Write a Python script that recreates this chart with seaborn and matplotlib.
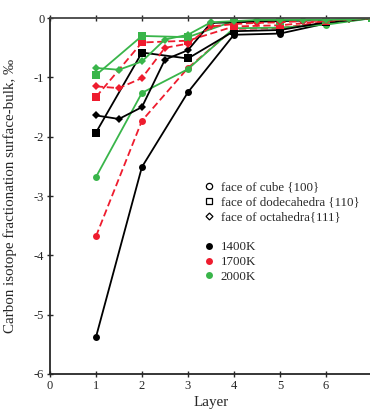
import matplotlib
matplotlib.use("Agg")
import matplotlib.pyplot as plt
from matplotlib.lines import Line2D
import pandas as pd
import seaborn as sns

# Layers for cube / dodecahedra faces, and half-layers for octahedra
LAYERS = [1, 2, 3, 4, 5, 6, 7]
LAYERS_OCT = [1, 1.5, 2, 2.5, 3, 3.5, 4, 4.5, 5, 5.5, 6, 6.5, 7]

# Carbon isotope fractionation surface-bulk (permil)
cube_1400 = [-5.38, -2.51, -1.25, -0.28, -0.26, -0.09, 0.0]
cube_1700 = [-3.68, -1.73, -0.84, -0.18, -0.17, -0.06, 0.0]
cube_2000 = [-2.68, -1.26, -0.86, -0.17, -0.16, -0.11, 0.0]

dodeca_1400 = [-1.93, -0.58, -0.68, -0.22, -0.20, -0.07, 0.0]
dodeca_1700 = [-1.33, -0.41, -0.38, -0.14, -0.12, -0.05, 0.0]
dodeca_2000 = [-0.96, -0.30, -0.32, -0.05, -0.04, -0.03, 0.0]

octa_1400 = [-1.64, -1.70, -1.50, -0.70, -0.54, -0.08, -0.07, -0.06, -0.05, -0.04, -0.03, -0.02, 0.0]
octa_1700 = [-1.15, -1.18, -1.01, -0.50, -0.43, -0.14, -0.10, -0.08, -0.07, -0.05, -0.04, -0.02, 0.0]
octa_2000 = [-0.84, -0.87, -0.73, -0.36, -0.28, -0.07, -0.05, -0.03, -0.03, -0.03, -0.03, -0.02, 0.0]

TEMPS = ["1400K", "1700K", "2000K"]
COLORS = {"1400K": "black", "1700K": "#ee1c2e", "2000K": "#39b54a"}
STYLES = {"1400K": "-", "1700K": (0, (4, 2)), "2000K": "-"}

series = [
    (LAYERS, cube_1400, "1400K", "o"), (LAYERS, cube_1700, "1700K", "o"), (LAYERS, cube_2000, "2000K", "o"),
    (LAYERS, dodeca_1400, "1400K", "s"), (LAYERS, dodeca_1700, "1700K", "s"), (LAYERS, dodeca_2000, "2000K", "s"),
    (LAYERS_OCT, octa_1400, "1400K", "D"), (LAYERS_OCT, octa_1700, "1700K", "D"), (LAYERS_OCT, octa_2000, "2000K", "D"),
]
msize = {"o": 5, "s": 5.5, "D": 3.8}

sns.set_style("ticks")
plt.rcParams["font.family"] = ["Liberation Serif", "DejaVu Serif"]
plt.rcParams["font.size"] = 9

fig = plt.figure(figsize=(3.7, 4.09), dpi=100)
ax = fig.add_axes([0.135, 0.0856, 0.87, 0.870])

for xs, ys, temp, mk in series:
    df = pd.DataFrame({"layer": xs, "frac": ys})
    sns.lineplot(data=df, x="layer", y="frac", ax=ax, color=COLORS[temp],
                 marker=mk, markersize=msize[mk], markeredgewidth=0,
                 linewidth=1.3, linestyle=STYLES[temp], legend=False)

ax.set_xlim(0, 7)
ax.set_ylim(-6, 0)
ax.set_xticks([0, 1, 2, 3, 4, 5, 6])
ax.set_yticks([0, -1, -2, -3, -4, -5, -6])
ax.set_yticklabels(["0", "-1", "-2", "-3", "-4", "-5", "-6"])
ax.tick_params(direction="inout", length=4, width=1, labelsize=9, pad=2)
ax.set_xlabel("Layer", fontsize=10.8)
ax.set_ylabel("Carbon isotope fractionation surface-bulk, \u2030", fontsize=10.8)
ax.xaxis.set_label_coords(0.5, -0.062)
ax.yaxis.set_label_coords(-0.102, 0.5)

for side in ["left", "bottom"]:
    ax.spines[side].set_linewidth(1.3)
ax.spines["right"].set_visible(False)
ax.spines["top"].set_visible(True)
ax.spines["top"].set_linewidth(1.3)
ax.spines["top"].set_color("#444444")
ax.tick_params(axis="x", top=True, labeltop=False)

handles = [
    Line2D([], [], marker="o", color="black", mfc="white", ls="none", ms=4.5, mew=0.9),
    Line2D([], [], marker="s", color="black", mfc="white", ls="none", ms=4.5, mew=0.9),
    Line2D([], [], marker="D", color="black", mfc="white", ls="none", ms=3.5, mew=0.9),
    Line2D([], [], ls="none"),
]
labels = ["face of cube {100}", "face of dodecahedra {110}", "face of octahedra{111}", " "]
for t in TEMPS:
    handles.append(Line2D([], [], marker="o", color=COLORS[t], ls="none", ms=5, mew=0))
    labels.append(t)
ax.legend(handles, labels, loc="upper left", bbox_to_anchor=(0.462, 0.555), frameon=False,
          handlelength=0.8, handletextpad=0.5, labelspacing=0.22, fontsize=9.3, borderaxespad=0)

fig.savefig("out.png", dpi=100)
